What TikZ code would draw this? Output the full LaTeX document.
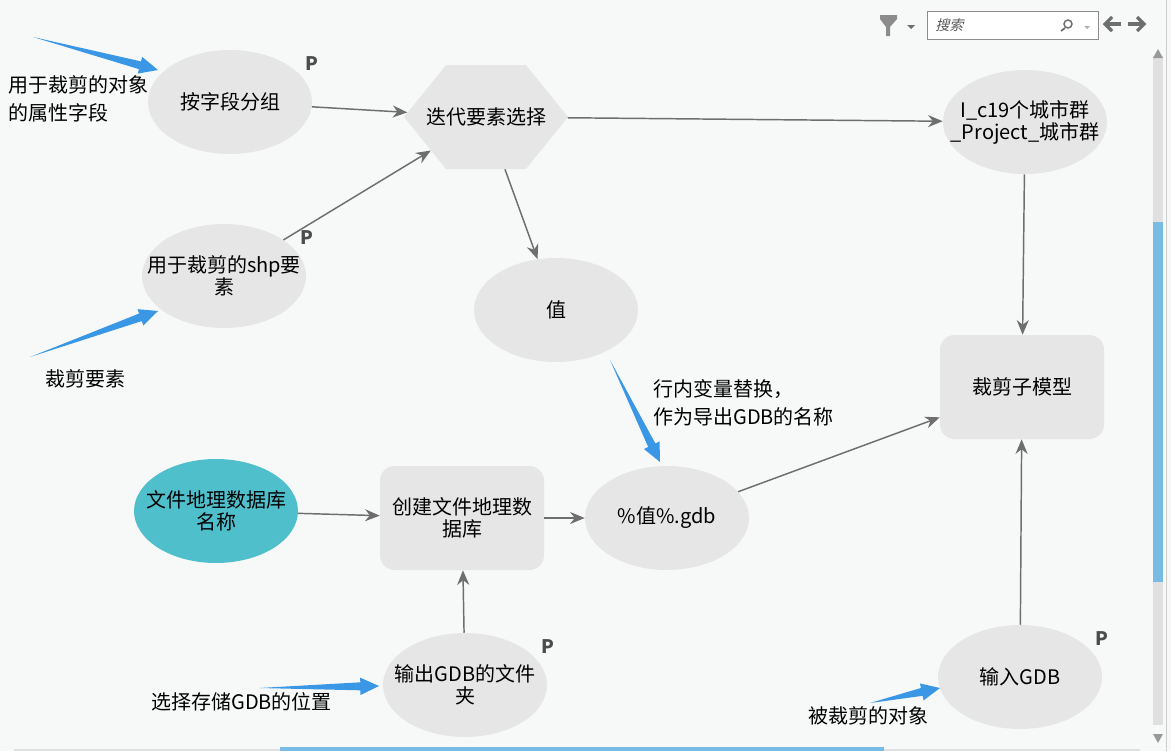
\documentclass[tikz,border=0pt]{standalone}
\usepackage{xcolor}
\usepackage{fontspec}
\setmainfont{Noto Sans CJK SC}
\newfontfamily\slantcjk[FakeSlant=0.25]{Noto Sans CJK SC}
\usetikzlibrary{arrows.meta,calc,shapes.geometric,shapes.symbols}

\definecolor{pagebg}{HTML}{F7F9F9}
\definecolor{nodegray}{HTML}{E6E6E6}
\definecolor{nodeteal}{HTML}{4FBFCB}
\definecolor{edgegray}{HTML}{6E6E6E}
\definecolor{notearrow}{HTML}{3A97E6}
\definecolor{barblue}{HTML}{78BCE6}
\definecolor{bartrack}{HTML}{E0E0E0}

\tikzset{
    modelnode/.style={minimum width=123pt, minimum height=78pt, inner sep=0pt, align=center,
        text=black, font=\fontsize{15}{16.5}\selectfont},
    ovalnode/.style={modelnode, ellipse, inner xsep=-15pt, fill=nodegray},
    tealnode/.style={ovalnode, fill=nodeteal},
    toolnode/.style={modelnode, rounded corners=11pt, fill=nodegray},
    hexnode/.style={modelnode, signal, signal to=east and west, signal pointer angle=102, inner xsep=-20pt, fill=nodegray},
    link/.style={->, draw=edgegray, line width=1.1pt},
    note/.style={anchor=west, align=left, inner sep=0pt, text=black, font=\fontsize{15}{21}\selectfont},
    pmark/.style={inner sep=0pt, text=black!70, font=\fontsize{14}{14}\selectfont\bfseries},
}

% 蓝色指示箭头
\newcommand{\notepointer}[2]{
    \coordinate (neck) at ($(#2)!14pt!(#1)$);
    \fill[notearrow] (#1) -- ($(neck)!3pt!90:(#2)$) -- ($(neck)!6.5pt!90:(#2)$) -- (#2)
        -- ($(neck)!6.5pt!-90:(#2)$) -- ($(neck)!3pt!-90:(#2)$) -- cycle;
}

\begin{document}
\begin{tikzpicture}[>={Stealth[length=11pt,width=9pt]}, x=0.75pt, y=-0.75pt]

    % 背景
    \fill[pagebg] (0,0) rectangle (1171,751);
    \useasboundingbox (0,0) rectangle (1171,751);

    % 节点
    \node[ovalnode] (group) at (230,102) {按字段分组};
    \node[ovalnode] (shp) at (224,276) {用于裁剪的shp要\\素};
    \node[hexnode] (iter) at (486,117) {迭代要素选择};
    \node[ovalnode] (city) at (1025,122) {I\_c19个城市群\\\_Project\_城市群};
    \node[ovalnode] (value) at (556,310) {值};
    \node[toolnode] (clip) at (1022,387) {裁剪子模型};
    \node[tealnode] (gdbname) at (216,511) {文件地理数据库\\名称};
    \node[toolnode] (create) at (462,518) {创建文件地理数\\据库};
    \node[ovalnode] (gdb) at (667,518) {\%值\%.gdb};
    \node[ovalnode] (outdir) at (465,685) {输出GDB的文件\\夹};
    \node[ovalnode] (ingdb) at (1020,677) {输入GDB};

    % 连线
    \draw[link] (group) -- (iter);
    \draw[link] (shp) -- (iter);
    \draw[link] (iter) -- (city);
    \draw[link] (iter) -- (value);
    \draw[link] (city) -- (clip);
    \draw[link] (gdbname) -- (create);
    \draw[link] (create) -- (gdb);
    \draw[link] (gdb) -- (clip);
    \draw[link] (outdir) -- (create);
    \draw[link] (ingdb) -- (clip);

    % P 标记
    \node[pmark] (pgroup) at (312,64) {P};
    \node[pmark] (pshp) at (307,238) {P};
    \node[pmark] (poutdir) at (548,647) {P};
    \node[pmark] (pingdb) at (1102,639) {P};

    % 说明文字
    \node[note] (notegroup) at (8,99) {用于裁剪的对象\\的属性字段};
    \node[note] (noteshp) at (45,379) {裁剪要素};
    \node[note] (notevalue) at (653,403) {行内变量替换，\\作为导出GDB的名称};
    \node[note] (noteoutdir) at (151,702) {选择存储GDB的位置};
    \node[note] (noteingdb) at (808,716) {被裁剪的对象};

    % 蓝色箭头
    \coordinate (a1) at (33,37);    \coordinate (b1) at (158,70);
    \coordinate (a2) at (30,357);   \coordinate (b2) at (158,311);
    \coordinate (a3) at (610,360);  \coordinate (b3) at (660,462);
    \coordinate (a4) at (259,688);  \coordinate (b4) at (379,686);
    \coordinate (a5) at (870,703);  \coordinate (b5) at (940,688);
    \notepointer{a1}{b1}
    \notepointer{a2}{b2}
    \notepointer{a3}{b3}
    \notepointer{a4}{b4}
    \notepointer{a5}{b5}

    % 搜索工具栏
    \fill[black!45] (880,15) -- (897,15) -- (897,19) -- (890,27) -- (890,36) -- (886,36) -- (886,27) -- (880,19) -- cycle;
    \fill[edgegray] (907,25) -- (915,25) -- (911,29) -- cycle;
    \node[draw=black!45, fill=white, line width=0.75pt, minimum width=128pt, minimum height=21pt, inner sep=0pt] (searchbox) at (1013,25) {};
    \node[anchor=west, inner sep=0pt, text=black!65, font=\fontsize{10.5}{12}\slantcjk] (searchtext) at (935,25.5) {搜索};
    \draw[edgegray, line width=1.1pt] (1068,24) circle (3pt);
    \draw[edgegray, line width=1.3pt] (1065,28) -- (1061,31);
    \fill[black!30] (1084,26) -- (1090,26) -- (1087,29) -- cycle;
    \draw[edgegray, line width=2.4pt] (1121,24) -- (1105,24);
    \draw[edgegray, line width=2.4pt] (1112,17) -- (1105,24) -- (1112,31);
    \draw[edgegray, line width=2.4pt] (1128,24) -- (1144,24);
    \draw[edgegray, line width=2.4pt] (1137,17) -- (1144,24) -- (1137,31);

    % 滚动条
    \fill[bartrack] (1153,56) rectangle (1163,725);
    \fill[barblue] (1153,222) rectangle (1163,582);
    \fill[black!40] (1153,58) -- (1163,58) -- (1158,49) -- cycle;
    \fill[black!40] (1153,734) -- (1163,734) -- (1158,743) -- cycle;
    \fill[bartrack] (14,749) rectangle (1140,751);
    \fill[barblue] (280,747) rectangle (884,751);
    \draw[black!20, line width=0.75pt] (1166,0) -- (1166,751);

\end{tikzpicture}
\end{document}
